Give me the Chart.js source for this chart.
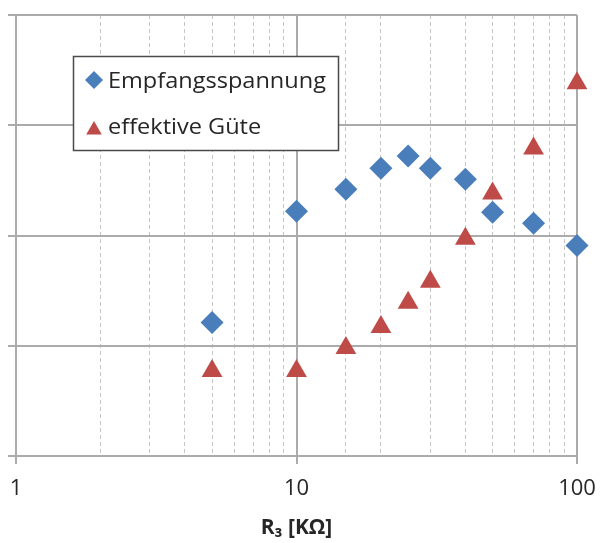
<!DOCTYPE html>
<html>
<head>
<meta charset="utf-8">
<script src="https://cdn.jsdelivr.net/npm/chart.js@4"></script>
<style>
  html, body { margin: 0; padding: 0; background: #fff; }
  #wrap { width: 600px; height: 543px; }
</style>
</head>
<body>
<div id="wrap"><canvas id="myChart" width="600" height="543"></canvas></div>
<script>
var r3Values = [5, 10, 15, 20, 25, 30, 40, 50, 70, 100];
var empfangsspannung = [1.21, 2.22, 2.42, 2.61, 2.72, 2.61, 2.51, 2.21, 2.11, 1.91];
var effektiveGuete = [0.77, 0.77, 0.98, 1.17, 1.39, 1.58, 1.97, 2.38, 2.79, 3.38];
var xTickLabels = [1, 10, 100];
var seriesNames = ['Empfangsspannung', 'effektive Güte'];

var blue = '#4a7ebb';
var red = '#be4b48';
var gridSolid = '#ababab';
var gridDash = '#c6c6c6';

function toPoints(ys) {
    return r3Values.map(function (x, i) { return { x: x, y: ys[i] }; });
}

function isMajor(v) {
    return xTickLabels.indexOf(v) !== -1;
}

// legend box drawn inside the plot, like the original
var boxLegend = {
    id: 'boxLegend',
    afterDraw: function (chart) {
        var ctx = chart.ctx;
        ctx.save();
        ctx.fillStyle = '#fff';
        ctx.fillRect(73.5, 56.5, 265, 94);
        ctx.strokeStyle = '#4a4a4a';
        ctx.lineWidth = 1.5;
        ctx.strokeRect(73.5, 56.5, 265, 94);
        var rows = [80, 126];
        chart.data.datasets.forEach(function (ds, i) {
            ctx.fillStyle = ds.backgroundColor;
            var tri = ds.pointStyle === 'triangle';
            Chart.helpers.drawPoint(ctx, {
                pointStyle: ds.pointStyle,
                radius: 9,
                rotation: 0,
                borderWidth: 0
            }, 94, tri ? rows[i] + 4 : rows[i]);
            ctx.save();
            ctx.fillStyle = '#262626';
            ctx.font = '22px "Open Sans"';
            ctx.textBaseline = 'alphabetic';
            ctx.translate(108, rows[i] + 8);
            ctx.scale(1.07, 1);
            ctx.fillText(ds.label, 0, 0);
            ctx.restore();
        });
        ctx.restore();
    }
};

var ctx = document.getElementById('myChart').getContext('2d');
var myChart = new Chart(ctx, {
    type: 'scatter',
    data: {
        datasets: [{
            label: seriesNames[0],
            data: toPoints(empfangsspannung),
            pointStyle: 'rectRot',
            pointRadius: 11.5,
            pointHoverRadius: 11.5,
            backgroundColor: blue,
            borderColor: blue,
            borderWidth: 0,
            clip: false
        }, {
            label: seriesNames[1],
            data: toPoints(effektiveGuete),
            pointStyle: 'triangle',
            pointRadius: 12,
            pointHoverRadius: 12,
            backgroundColor: red,
            borderColor: red,
            borderWidth: 0,
            clip: false
        }]
    },
    options: {
        responsive: false,
        animation: false,
        layout: {
            padding: { top: 15, right: 23, left: 0, bottom: 0 }
        },
        plugins: {
            legend: { display: false },
            tooltip: { enabled: false }
        },
        scales: {
            x: {
                type: 'logarithmic',
                min: 1,
                max: 100,
                afterFit: function (s) {
                    s.height = 87;
                    s.paddingLeft = 0;
                    s.paddingRight = 0;
                },
                grid: {
                    color: function (c) { return isMajor(c.tick && c.tick.value) ? gridSolid : gridDash; },
                    lineWidth: function (c) { return isMajor(c.tick && c.tick.value) ? 2 : 1; },
                    tickColor: function (c) { return isMajor(c.tick && c.tick.value) ? gridSolid : 'rgba(0,0,0,0)'; },
                    tickWidth: 2,
                    tickLength: 8
                },
                border: {
                    color: gridSolid,
                    width: 2,
                    dash: function (c) {
                        if (!c.tick) return [];
                        return isMajor(c.tick.value) ? [] : [4, 3];
                    }
                },
                ticks: {
                    autoSkip: false,
                    maxRotation: 0,
                    padding: 12,
                    color: '#262626',
                    font: { family: 'Open Sans', size: 22 },
                    callback: function (v) { return isMajor(v) ? String(v) : ''; }
                },
                title: {
                    display: true,
                    text: 'R₃ [KΩ]',
                    color: '#262626',
                    font: { family: 'Open Sans', size: 21, weight: 'bold' },
                    padding: { top: 0, bottom: 2 }
                }
            },
            y: {
                min: 0,
                max: 4,
                afterFit: function (s) { s.width = 16; },
                ticks: { display: false, stepSize: 1 },
                grid: {
                    color: gridSolid,
                    lineWidth: 2,
                    tickLength: 8,
                    tickWidth: 2,
                    tickColor: gridSolid
                },
                border: { color: gridSolid, width: 2 }
            }
        }
    },
    plugins: [boxLegend]
});
</script>
</body>
</html>
